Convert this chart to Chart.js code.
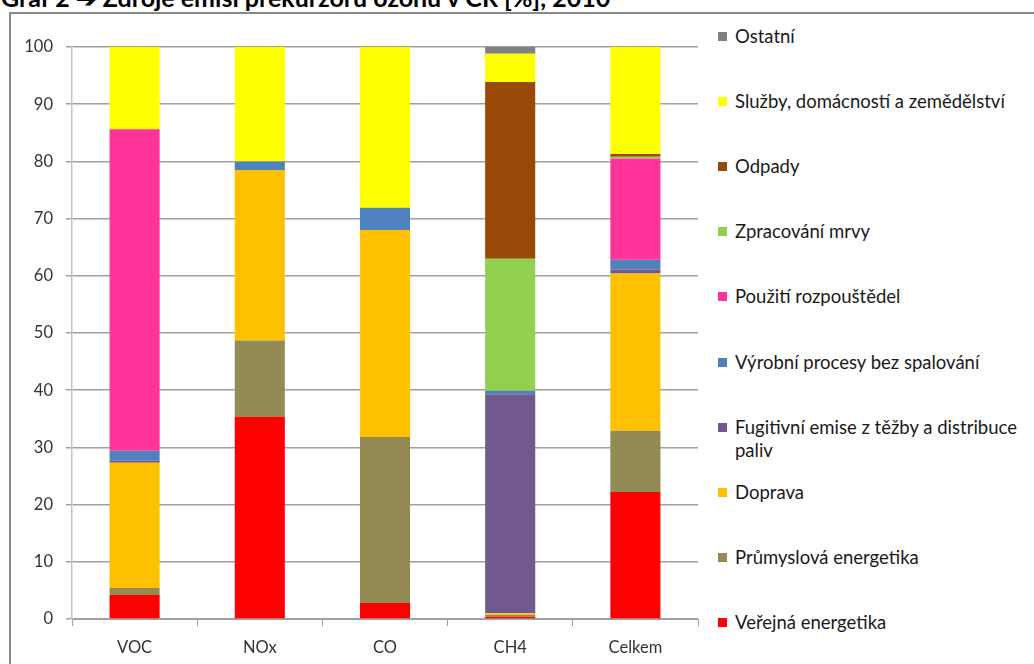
<!DOCTYPE html>
<html>
<head>
<meta charset="utf-8">
<script src="https://cdn.jsdelivr.net/npm/chart.js@4.4.0/dist/chart.umd.min.js"></script>
<style>
  html, body { margin: 0; padding: 0; background: #fff; }
  body { width: 1034px; height: 664px; position: relative; overflow: hidden; font-family: Lato, "Open Sans", sans-serif; }
  #title { position: absolute; left: 1px; top: -15px; font-size: 25px; line-height: 24px; font-weight: bold; color: #000; white-space: nowrap; }
  #frame { position: absolute; left: 9px; top: 12px; width: 1030px; height: 700px; border: 2px solid #888; box-sizing: border-box; }
  #wrap { position: absolute; left: 0; top: 0; width: 700px; height: 664px; }
  #legend { position: absolute; left: 718px; top: 0; width: 316px; height: 664px; }
  .item { position: absolute; left: 0; width: 316px; font-size: 18.5px; line-height: 23px; color: #1a1a1a; }
  .item .sw { position: absolute; left: 0; top: 7px; width: 9px; height: 9px; }
  .item .tx { display: block; margin-left: 17px; }
</style>
</head>
<body>
<div id="title">Graf 2 ➔ Zdroje emisí prekurzorů ozonu v ČR [%], 2010</div>
<div id="frame"></div>
<div id="wrap"><canvas id="chart"></canvas></div>
<div id="legend"></div>
<script>
// Categories (pollutants)
const CATEGORIES = ['VOC', 'NOx', 'CO', 'CH4', 'Celkem'];

// Source shares in %, bottom of the stack first
const VEREJNA     = [4.2, 35.3, 2.8, 0.4, 22.2];
const PRUMYSLOVA  = [1.2, 13.4, 29.0, 0.3, 10.7];
const DOPRAVA     = [21.9, 29.8, 36.2, 0.3, 27.5];
const FUGITIVNI   = [0.4, 0, 0, 38.3, 0.7];
const VYROBNI     = [1.7, 1.5, 3.9, 0.6, 1.7];
const ROZPOUSTEDLA = [56.2, 0, 0, 0, 17.7];
const MRVA        = [0, 0, 0, 23.1, 0.3];
const ODPADY      = [0, 0, 0, 30.9, 0.5];
const SLUZBY      = [14.4, 20.0, 28.1, 4.9, 18.7];
const OSTATNI     = [0, 0, 0, 1.2, 0];

const Y_TICKS = [0, 10, 20, 30, 40, 50, 60, 70, 80, 90, 100];

const SERIES = [
  { label: 'Veřejná energetika', data: VEREJNA, color: '#FF0000' },
  { label: 'Průmyslová energetika', data: PRUMYSLOVA, color: '#948A54' },
  { label: 'Doprava', data: DOPRAVA, color: '#FFC000' },
  { label: 'Fugitivní emise z těžby a distribuce paliv', data: FUGITIVNI, color: '#71588F' },
  { label: 'Výrobní procesy bez spalování', data: VYROBNI, color: '#4F81BD' },
  { label: 'Použití rozpouštědel', data: ROZPOUSTEDLA, color: '#FF3399' },
  { label: 'Zpracování mrvy', data: MRVA, color: '#92D050' },
  { label: 'Odpady', data: ODPADY, color: '#984807' },
  { label: 'Služby, domácností a zemědělství', data: SLUZBY, color: '#FFFF00' },
  { label: 'Ostatní', data: OSTATNI, color: '#808080' },
];

const TICK_FONT = { family: 'Lato', size: 16.5 };
const TICK_COLOR = '#333';

const datasets = SERIES.map(s => ({
  label: s.label,
  data: s.data,
  backgroundColor: s.color,
  borderWidth: 0,
  barPercentage: 0.4,
  categoryPercentage: 1.0,
}));

const chart = new Chart(document.getElementById('chart'), {
  type: 'bar',
  data: { labels: CATEGORIES, datasets },
  options: {
    responsive: true,
    maintainAspectRatio: false,
    animation: false,
    layout: { padding: { left: 0, top: 47, right: 2, bottom: 0 } },
    plugins: {
      legend: { display: false },
      tooltip: { enabled: false },
    },
    scales: {
      x: {
        stacked: true,
        afterFit: scale => { scale.height = 45; },
        ticks: { font: TICK_FONT, color: TICK_COLOR, padding: 12 },
        grid: { drawOnChartArea: false, color: '#a0a0a0', tickLength: 7 },
        border: { color: '#a0a0a0' },
      },
      y: {
        stacked: true,
        min: 0,
        max: 100,
        afterFit: scale => { scale.width = 72; },
        afterBuildTicks: scale => { scale.ticks = Y_TICKS.map(v => ({ value: v })); },
        ticks: { font: TICK_FONT, color: TICK_COLOR, padding: 13 },
        grid: { color: '#a0a0a0', tickLength: 6, lineWidth: 1.5 },
        border: { color: '#c4c4c4', width: 1.5 },
      },
    },
  },
});

// Legend built from the same series, listed top-down like the original
const legend = document.getElementById('legend');
SERIES.slice().reverse().forEach((s, i) => {
  const item = document.createElement('div');
  item.className = 'item';
  item.style.top = (36 + i * 65.2 - 11.5) + 'px';
  item.innerHTML = '<span class="sw" style="background:' + s.color + '"></span><span class="tx">' + s.label + '</span>';
  legend.appendChild(item);
});
</script>
</body>
</html>
